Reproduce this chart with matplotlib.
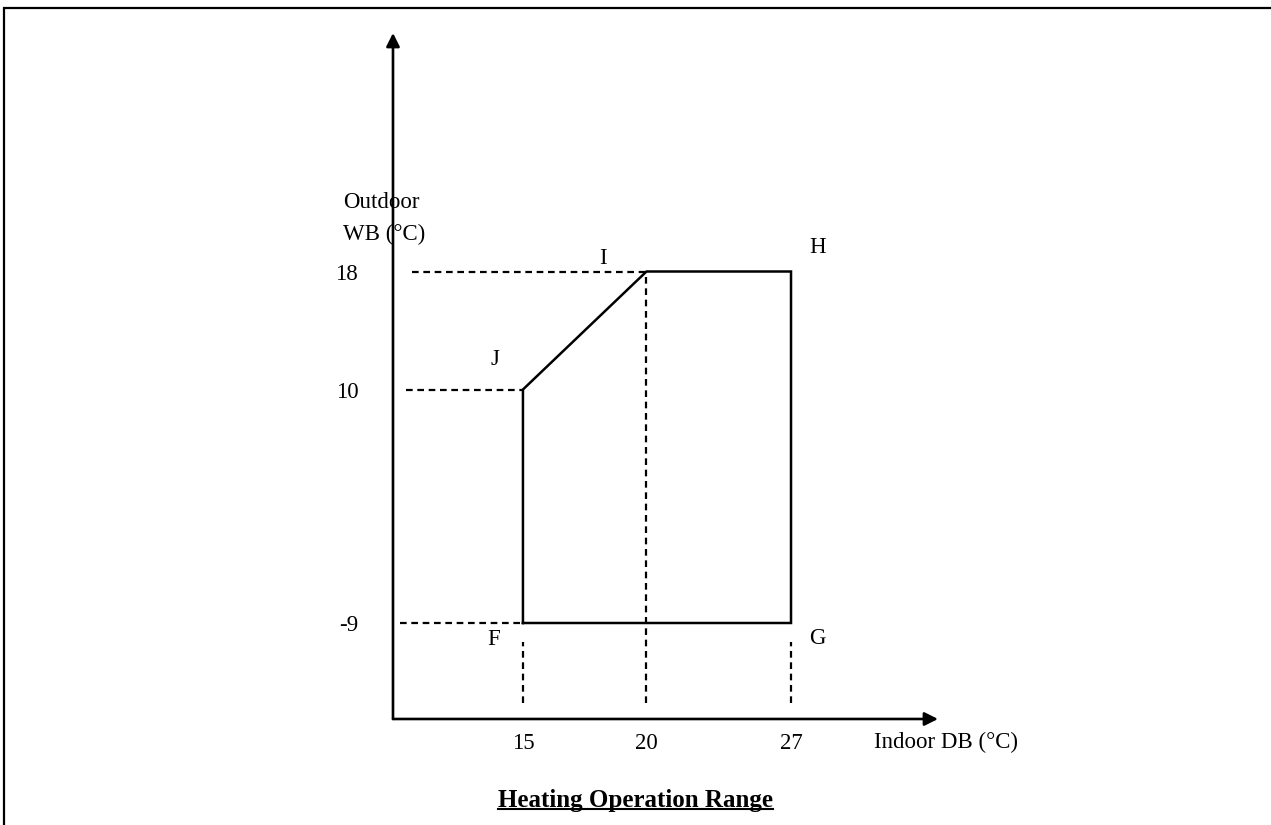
import numpy as np
import matplotlib.pyplot as plt
from matplotlib.patches import Rectangle
from matplotlib.lines import Line2D

plt.rcParams['font.family'] = ['Liberation Serif', 'DejaVu Serif']

# operating envelope, corners F G H I J
corner_names = ['F', 'G', 'H', 'I', 'J']
indoor_db = [15, 27, 27, 20, 15]
outdoor_wb = [-9, -9, 18, 18, 10]

x_ticks = [15, 20, 27]
y_ticks = [-9, 10, 18]
y_tick_labels = ['-9', '10', '18']

# diagram is not to scale: piecewise mapping of values to drawing positions
x_anchor = np.array([0, 15, 20, 27, 50])
x_pos = np.array([152.5, 523, 646.5, 791, 1265.7])
y_anchor = np.array([-40, -9, 10, 18, 60])
y_pos = -np.array([1004, 623, 389.5, 271.5, -348])

def fx(v):
    return np.interp(v, x_anchor, x_pos)

def fx_inv(p):
    return np.interp(p, x_pos, x_anchor)

def fy(v):
    return np.interp(v, y_anchor, y_pos)

def fy_inv(p):
    return np.interp(p, y_pos, y_anchor)

fig = plt.figure(figsize=(12.71, 8.25), dpi=100)
ax = fig.add_axes([0.3092, 0.1285, 0.4288, 0.8315])
ax.set_xscale('function', functions=(fx, fx_inv))
ax.set_yscale('function', functions=(fy, fy_inv))
ax.set_xlim(9.74, 34.12)
ax.set_ylim(-16.81, 34.17)

for s in ax.spines.values():
    s.set_visible(False)

# axes with arrow heads
arrow = dict(arrowstyle='-|>', color='black', lw=1.9, mutation_scale=20,
             shrinkA=0, shrinkB=0)
ax.annotate('', xy=(0, 1), xytext=(0, 0), xycoords='axes fraction', arrowprops=arrow)
ax.annotate('', xy=(1, 0), xytext=(0, 0), xycoords='axes fraction', arrowprops=arrow)

# envelope
ax.plot(indoor_db + [indoor_db[0]], outdoor_wb + [outdoor_wb[0]],
        color='black', lw=1.8, solid_joinstyle='miter')

# dashed guide lines
dash = dict(color='black', lw=1.6, linestyle=(0, (3.0, 2.1)))
ax.plot([10.49, 20], [18, 18], **dash)
ax.plot([10.26, 15], [10, 10], **dash)
ax.plot([10.02, 15], [-9, -9], **dash)
ax.plot([15, 15], [-15.51, -10.52], **dash)
ax.plot([20, 20], [-15.51, 18], **dash)
ax.plot([27, 27], [-15.51, -10.52], **dash)

# corner letters
offsets = [(-20.9, -12.2), (19.1, -11.2), (19.4, 17.6), (-31, 9.1), (-20.5, 21.6)]
for name, x, y, off in zip(corner_names, indoor_db, outdoor_wb, offsets):
    ax.annotate(name, (x, y), xytext=off, textcoords='offset points',
                ha='center', va='center', fontsize=16.5)

ax.set_xticks(x_ticks)
ax.set_xticklabels([str(v) for v in x_ticks])
ax.set_yticks(y_ticks)
ax.set_yticklabels(y_tick_labels)
ax.tick_params(axis='x', length=0, pad=10, labelsize=16.5)
ax.tick_params(axis='y', length=0, pad=25, labelsize=16.5)
for lbl in ax.get_xticklabels():
    lbl.set_x(lbl.get_position()[0])
ax.minorticks_off()

ax.annotate('Outdoor\nWB (°C)', (0, 0.730), xycoords='axes fraction',
            xytext=(-36, 0), textcoords='offset points',
            ha='left', va='center', fontsize=16.5, linespacing=1.65)
ax.annotate('Indoor DB (°C)', (0.8826, 0), xycoords='axes fraction',
            xytext=(0, -17), textcoords='offset points',
            ha='left', va='center', fontsize=16.5)

title = fig.text(635.5 / 1271, 0.0222, 'Heating Operation Range',
                 ha='center', va='baseline', fontsize=18, fontweight='bold')

# page frame (only top and left edges visible)
fig.patches.append(Rectangle((4 / 1271, -0.5), 2, 1.5 - 8 / 825, fill=False,
                             lw=1.6, edgecolor='black', transform=fig.transFigure))

# underline title
fig.canvas.draw()
bb = title.get_window_extent().transformed(fig.transFigure.inverted())
fig.lines.append(Line2D([bb.x0, bb.x1], [0.0188, 0.0188], color='black', lw=1.5,
                        transform=fig.transFigure))

fig.savefig('out.png', dpi=100)
